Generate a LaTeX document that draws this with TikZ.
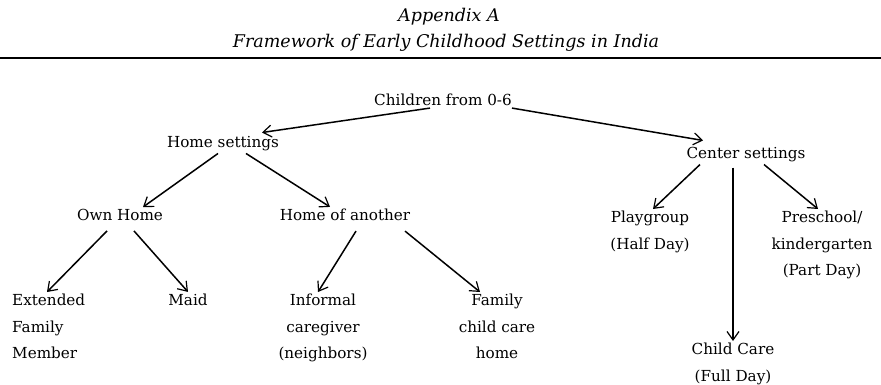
\documentclass[tikz,border=0pt]{standalone}
\usepackage{fontspec}
\setmainfont{DejaVu Serif}
\usetikzlibrary{arrows.meta}

\begin{document}
\begin{tikzpicture}[x=1pt, y=-1pt,
	lbl/.style={inner sep=2pt, font=\fontsize{15.2}{26.5}\selectfont, align=center},
	ttl/.style={inner sep=2pt, font=\itshape\fontsize{17.5}{20}\selectfont},
	arr/.style={line width=1.5pt, -{Straight Barb[length=8.5pt, width=12pt, line width=1.2pt]}}]

	\useasboundingbox (0,0) rectangle (881,385);

	\node[ttl] (app) at (449,17) {Appendix A};
	\node[ttl] (frame) at (446,43) {Framework of Early Childhood Settings in India};
	\draw[line width=2pt] (0,58) -- (881,58);


	\node[lbl] (child) at (443,100) {Children from 0-6};
	\node[lbl] (home) at (223,144) {Home settings};
	\node[lbl] (center) at (746,155) {Center settings};

	\node[lbl] (own) at (120,215) {Own Home};
	\node[lbl] (another) at (345,215) {Home of another};
	\node[lbl, anchor=north] (play) at (650,209) {Playgroup\\(Half Day)};
	\node[lbl, anchor=north] (pre) at (822,209) {Preschool/\\kindergarten\\(Part Day)};

	\node[lbl, anchor=north west, align=left] (ext) at (10,292) {Extended\\Family\\Member};
	\node[lbl] (maid) at (188,300) {Maid};
	\node[lbl, anchor=north] (informal) at (323,292) {Informal\\caregiver\\(neighbors)};
	\node[lbl, anchor=north] (family) at (497,292) {Family\\child care\\home};
	\node[lbl, anchor=north] (care) at (733,341) {Child Care\\(Full Day)};


	\draw[arr] ([xshift=-13pt]child.south) -- ([xshift=39pt, yshift=2pt]home.north);
	\draw[arr] ([xshift=69pt]child.south) -- ([xshift=-43pt, yshift=5pt]center.north);

	\draw[arr] ([xshift=-5pt]home.south) -- ([xshift=23pt]own.north);
	\draw[arr] ([xshift=23pt]home.south) -- ([xshift=-15pt]another.north);
	\draw[arr] ([xshift=-13pt, yshift=-8pt]own.south) -- ([xshift=37pt]ext.north west);
	\draw[arr] ([xshift=14pt, yshift=-8pt]own.south) -- (maid.north);
	\draw[arr] ([xshift=11pt, yshift=-8pt]another.south) -- ([xshift=-5pt]informal.north);
	\draw[arr] ([xshift=60pt, yshift=-8pt]another.south) -- ([xshift=-17pt]family.north);

	\draw[arr] ([xshift=-46pt]center.south) -- ([xshift=3pt]play.north);
	\draw[arr] ([xshift=-13pt, yshift=-3pt]center.south) -- (care.north);
	\draw[arr] ([xshift=18pt]center.south) -- ([xshift=-4pt]pre.north);

\end{tikzpicture}
\end{document}
